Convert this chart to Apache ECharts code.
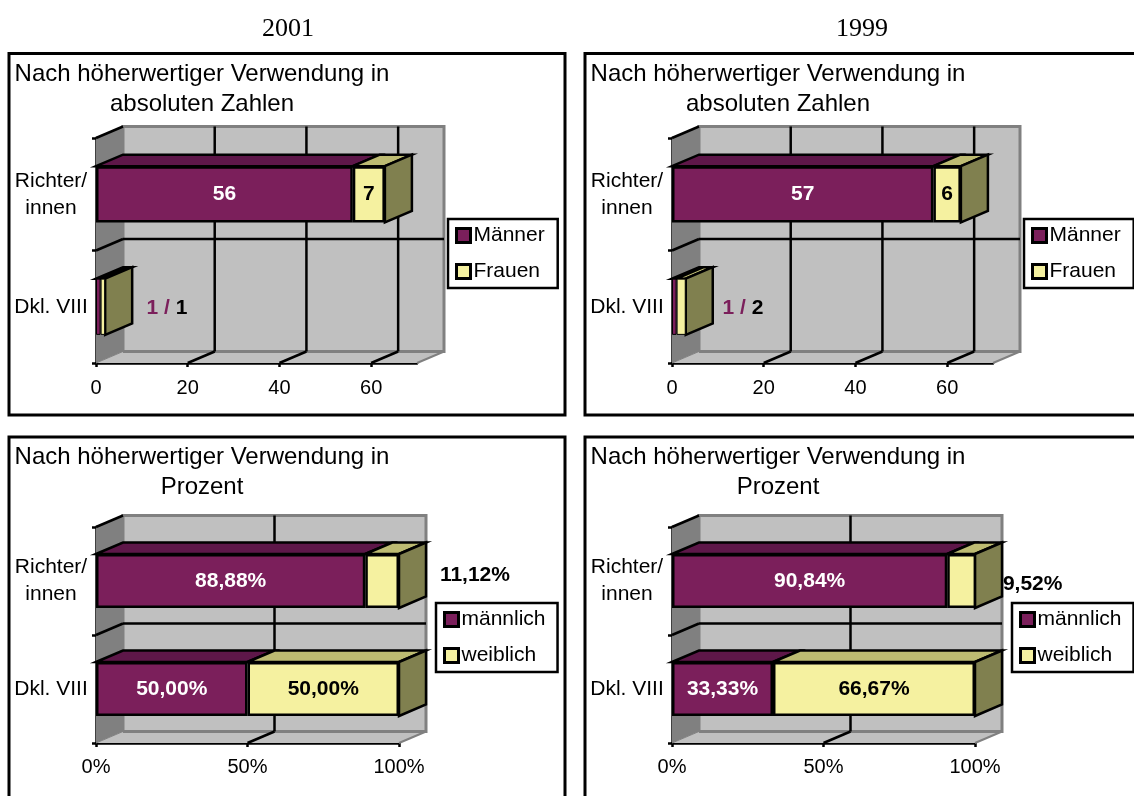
<!DOCTYPE html>
<html><head><meta charset="utf-8">
<style>html,body{margin:0;padding:0;background:#fff}#c{width:1134px;height:796px}</style>
<script src="https://cdn.jsdelivr.net/npm/echarts@6/dist/echarts.min.js"></script>
</head><body><div id="c"></div>
<script>
const categories = ['Richter/\ninnen', 'Dkl. VIII'];
const absTicks = [0, 20, 40, 60];
const pctTicks = [0, 50, 100];
const men2001 = [56, 1];
const women2001 = [7, 1];
const men1999 = [57, 1];
const women1999 = [6, 2];
const male2001 = [88.88, 50.00];
const female2001 = [11.12, 50.00];
const male1999 = [90.84, 33.33];
const female1999 = [9.52, 66.67];
const titleAbs = 'Nach höherwertiger Verwendung in\nabsoluten Zahlen';
const titlePct = 'Nach höherwertiger Verwendung in\nProzent';

const FONT = '"Liberation Sans", Arial, sans-serif';
const DX = 27, DY = 11.5;
const MAROON = '#7B1F5B', MAROON_TOP = '#5E1749', YEL = '#F5F1A0', YEL_TOP = '#BDBB72', SIDE = '#80804F';

const panels = [
  {frame:[9,53.5,556,361.5], grid:[96,138,321,225], max:70, ticks:absTicks, pct:false, title:titleAbs, titleX:202, titleY:59,
   names:['Männer','Frauen'], a:men2001, b:women2001, legend:[448,219], note:{x:11,cat:1,dy:1}},
  {frame:[585,53.5,600,361.5], grid:[672,138,321,225], max:70, ticks:absTicks, pct:false, title:titleAbs, titleX:778, titleY:59,
   names:['Männer','Frauen'], a:men1999, b:women1999, legend:[1024,219], note:{x:11,cat:1,dy:1}},
  {frame:[9,437,556,400], grid:[96,527,303,216], max:100, ticks:pctTicks, pct:true, title:titlePct, titleX:202, titleY:442.5,
   names:['männlich','weiblich'], a:male2001, b:female2001, legend:[436,603], note:{x:113.5,cat:0,dy:-6}},
  {frame:[585,437,600,400], grid:[672,527,303,216], max:100, ticks:pctTicks, pct:true, title:titlePct, titleX:778, titleY:442.5,
   names:['männlich','weiblich'], a:male1999, b:female1999, legend:[1012,603], note:{x:109.2,cat:0,dy:3}}
];

const fmtPct = v => v.toFixed(2).replace('.', ',') + '%';
const yearStyle = {fontFamily:'"Liberation Serif",serif', fontSize:26, fontWeight:'normal', color:'#000'};
const option = {animation:false, backgroundColor:'#fff',
  title:[
    {text:'2001', left:288, top:16, padding:0, textAlign:'center', textStyle:yearStyle},
    {text:'1999', left:862, top:16, padding:0, textAlign:'center', textStyle:yearStyle}
  ],
  grid:[], xAxis:[], yAxis:[], series:[], legend:[], graphic:[]};

function line(x1,y1,x2,y2,color,w){return {type:'line',shape:{x1,y1,x2,y2},style:{stroke:color,lineWidth:w}};}
function poly(points,fill,stroke,w){return {type:'polygon',shape:{points},style:{fill,stroke:stroke||null,lineWidth:w||0,lineJoin:'miter'}};}

panels.forEach((p,i)=>{
  option.graphic.push({type:'rect',z:-1,shape:{x:p.frame[0],y:p.frame[1],width:p.frame[2],height:p.frame[3]},style:{fill:'#fff',stroke:'#000',lineWidth:3}});
  option.title.push({text:p.title,left:p.titleX,top:p.titleY,padding:0,textAlign:'center',textStyle:{fontFamily:FONT,fontSize:24,fontWeight:'normal',color:'#000',lineHeight:30}});
  option.grid.push({left:p.grid[0],top:p.grid[1],width:p.grid[2],height:p.grid[3],containLabel:false});
  const axisLine={show:true,onZero:false,lineStyle:{color:'#000',width:2.5}};
  option.xAxis.push({type:'value',gridIndex:i,min:0,max:p.max,interval:p.pct?50:20,axisLine,
    axisTick:{show:true,length:4,lineStyle:{color:'#000',width:2.5},customValues:p.ticks},
    axisLabel:{color:'#000',fontFamily:FONT,fontSize:20,margin:p.pct?14:15,customValues:p.ticks,formatter:p.pct?'{value}%':'{value}',hideOverlap:false},
    splitLine:{show:false}});
  option.yAxis.push({type:'category',gridIndex:i,inverse:true,data:categories,axisLine,
    axisTick:{show:true,length:4,lineStyle:{color:'#000',width:2.5}},
    axisLabel:{color:'#000',fontFamily:FONT,fontSize:21,align:'center',margin:45,lineHeight:27},splitLine:{show:false}});

  // walls, floor and grid lines behind the bars
  option.series.push({type:'custom',name:'walls'+i,coordinateSystem:'cartesian2d',xAxisIndex:i,yAxisIndex:i,z:1,silent:true,clip:false,
    data:[[0,0]],
    renderItem:(params,api)=>{
      const cs=params.coordSys, x0=cs.x, xr=cs.x+cs.width, yt=cs.y, yb=cs.y+cs.height, ym=cs.y+cs.height/2;
      const ch=[
        poly([[x0+DX,yt-DY],[xr+DX,yt-DY],[xr+DX,yb-DY],[x0+DX,yb-DY]],'#C0C0C0','#808080',3),
        poly([[x0,yt],[x0+DX,yt-DY],[x0+DX,yb-DY],[x0,yb]],'#808080'),
        poly([[x0,yb],[xr,yb],[xr+DX,yb-DY],[x0+DX,yb-DY]],'#C0C0C0'),
        line(xr,yb,xr+DX,yb-DY,'#808080',2),
        line(x0+DX,yb-DY,xr+DX,yb-DY,'#808080',3),
        line(x0+DX,yt,x0+DX,yb-DY,'#808080',2),
        line(x0,yb,x0+DX,yb-DY,'#808080',1),
        line(x0,yt,x0+DX,yt-DY,'#000',2.5),
        line(x0,ym,x0+DX,ym-DY,'#000',2.5),
        line(x0+DX,ym-DY,xr+DX,ym-DY,'#000',2.5)
      ];
      p.ticks.filter(t=>t>0&&t<p.max).forEach(t=>{
        const x=api.coord([t,0])[0];
        ch.push(line(x+DX,yt-DY,x+DX,yb-DY,'#000',2.5));
        ch.push(line(x,yb,x+DX,yb-DY,'#000',2.5));
      });
      return {type:'group',children:ch};
    }});

  // stacked front faces (narrow bars get a finer outline so their fill stays visible)
  [p.a,p.b].forEach((vals,k)=>{
    option.series.push({type:'bar',name:p.names[k],xAxisIndex:i,yAxisIndex:i,stack:'s'+i,barWidth:'50%',z:3,
      itemStyle:{color:k?YEL:MAROON,borderColor:'#000',borderWidth:2.5},
      label:{show:true,position:'inside',fontFamily:FONT,fontSize:21,fontWeight:'bold',color:k?'#000':'#fff',
        formatter:o=>{
          if(!p.pct) return o.dataIndex===0?String(o.value):'';
          if(k===1&&o.dataIndex===0) return '';
          return fmtPct(o.value);
        }},
      data:vals.map(v=>(!p.pct&&v<=2)?{value:v,itemStyle:{borderWidth:1}}:v)});
  });

  // depth faces of the bars
  const segs=[];
  categories.forEach((c,j)=>{
    const e1=p.a[j], e2=Math.min(p.a[j]+p.b[j],p.max);
    segs.push([j,0,e1,0]); segs.push([j,e1,e2,1]);
  });
  option.series.push({type:'custom',name:'depth'+i,coordinateSystem:'cartesian2d',xAxisIndex:i,yAxisIndex:i,z:2,silent:true,clip:false,
    data:segs,
    renderItem:(params,api)=>{
      const j=api.value(0), s=api.value(1), e=api.value(2), k=api.value(3);
      const yc=api.coord([0,j])[1], h=api.size([0,1])[1]*0.25;
      const xs=api.coord([s,j])[0], xe=api.coord([e,j])[0];
      const ch=[poly([[xs,yc-h],[xs+DX,yc-h-DY],[xe+DX,yc-h-DY],[xe,yc-h]],k?YEL_TOP:MAROON_TOP,'#000',2.5)];
      if(k) ch.push(poly([[xe,yc-h],[xe+DX,yc-h-DY],[xe+DX,yc+h-DY],[xe,yc+h]],SIDE,'#000',2.5));
      return {type:'group',children:ch};
    }});

  // labels placed outside the bars
  const n=p.note, noteData=p.pct?[[n.x,n.cat,p.b[n.cat]]]:[[n.x,n.cat,p.a[n.cat],p.b[n.cat]]];
  option.series.push({type:'custom',name:'notes'+i,coordinateSystem:'cartesian2d',xAxisIndex:i,yAxisIndex:i,z:4,silent:true,clip:false,
    data:noteData,
    renderItem:(params,api)=>{
      const c=api.coord([api.value(0),api.value(1)]);
      const text=p.pct?fmtPct(api.value(2)):'{m|'+api.value(2)+' /} {k|'+api.value(3)+'}';
      return {type:'text',x:c[0],y:c[1]+n.dy,style:{text,font:'bold 21px '+FONT,fill:'#000',align:'left',verticalAlign:'middle',
        rich:{m:{fill:MAROON,font:'bold 21px '+FONT},k:{fill:'#000',font:'bold 21px '+FONT}}}};
    }});

  const L=p.legend;
  option.legend.push({left:L[0],top:L[1],orient:'vertical',selectedMode:false,icon:'rect',itemWidth:14,itemHeight:14,itemGap:15,
    backgroundColor:'#fff',borderColor:'#000',borderWidth:2.5,borderRadius:0,padding:[6,p.pct?12:13,6,7],
    textStyle:{fontFamily:FONT,fontSize:21,color:'#000',padding:[1,0,0,-2]},z:5,
    data:p.names.map((name,k)=>({name,itemStyle:{color:k?YEL:MAROON,borderColor:'#000',borderWidth:3}}))});
});

echarts.init(document.getElementById('c'),null,{renderer:'canvas'}).setOption(option);
</script></body></html>
